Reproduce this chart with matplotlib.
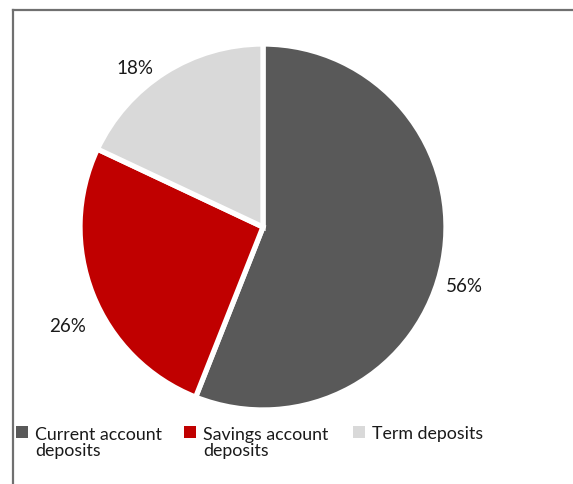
import matplotlib.pyplot as plt
from matplotlib.patches import Rectangle

# data
categories = ['Current account\ndeposits', 'Savings account\ndeposits', 'Term deposits']
shares = [56, 26, 18]
colors = ['#595959', '#C00000', '#D9D9D9']
pct_labels = ['56%', '26%', '18%']

plt.rcParams['font.family'] = ['Lato', 'DejaVu Sans']

W, H = 573, 485
fig = plt.figure(figsize=(W / 100, H / 100), dpi=100)
ax = fig.add_axes([0, 0, 1, 1])

wedges, texts = ax.pie(shares, colors=colors, startangle=90, counterclock=False,
                       labels=pct_labels, labeldistance=1.15,
                       wedgeprops=dict(edgecolor='white', linewidth=3.8),
                       textprops=dict(fontsize=13.5, color='#1a1a1a'))

# label placement (Excel style, set by hand)
label_pos = [(1.101, -0.350), (-1.068, -0.568), (-0.699, 0.842)]
for t, p in zip(texts, label_pos):
    t.set_position(p)
    t.set_ha('center')
    t.set_va('baseline')

# pixel scale: radius = 183 px, centre at (263, 228) from top-left
r = 183.0
ax.set_xlim(-263 / r, (W - 263) / r)
ax.set_ylim(-(H - 228) / r, 228 / r)
ax.set_aspect('auto')
ax.axis('off')

# frame lines (top and left)
fig.add_artist(plt.Line2D([13 / W, 13 / W], [0, 1 - 11 / H], color='#707070', lw=1.6))
fig.add_artist(plt.Line2D([13 / W, 1], [1 - 11 / H, 1 - 11 / H], color='#707070', lw=1.6))

# legend, drawn by hand so squares sit on the first text line
leg_x = [16, 184, 353]
base = 439   # first-line baseline, px from top
gap = 17     # line gap, px
for x, c, lab in zip(leg_x, colors, categories):
    fig.add_artist(Rectangle((x / W, 1 - base / H), 12 / W, 12 / H, facecolor=c,
                             edgecolor='none', transform=fig.transFigure))
    nlines = lab.count('\n') + 1
    fig.text((x + 19) / W, 1 - (base + gap * (nlines - 1)) / H, lab, ha='left',
             va='baseline', fontsize=12.8, color='#1a1a1a', linespacing=0.97)

plt.savefig('out.png', dpi=100)
